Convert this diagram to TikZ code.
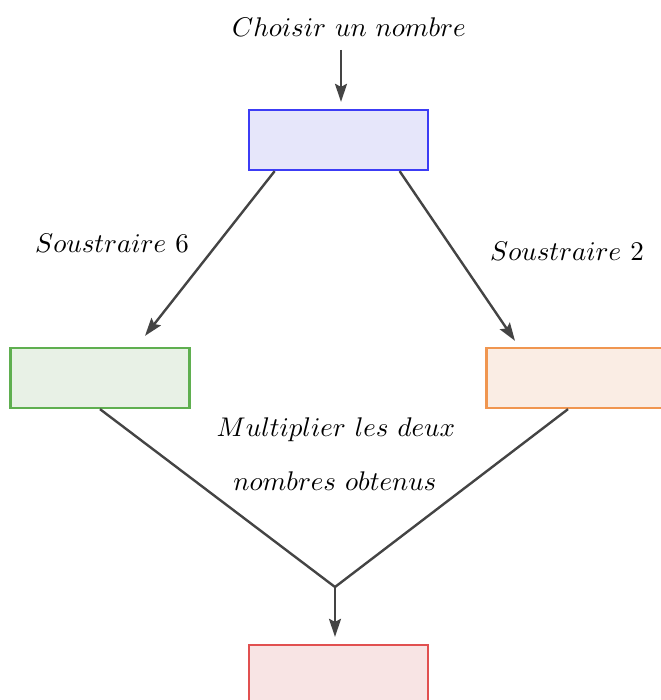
\documentclass[tikz,border=0pt]{standalone}
\usepackage{graphicx}
\usetikzlibrary{arrows.meta,calc}
\definecolor{arrowgray}{RGB}{68,68,68}
\definecolor{bluebd}{RGB}{60,60,245}
\definecolor{bluefl}{RGB}{230,230,250}
\definecolor{greenbd}{RGB}{95,175,80}
\definecolor{greenfl}{RGB}{232,241,230}
\definecolor{orangebd}{RGB}{240,150,80}
\definecolor{orangefl}{RGB}{250,237,228}
\definecolor{redbd}{RGB}{225,80,80}
\definecolor{redfl}{RGB}{248,228,228}
\newcommand{\bigtxt}[1]{\scalebox{2.7}{$#1$}}
\tikzset{
  box/.style={rectangle, minimum width=179pt, minimum height=60pt, line width=2.3pt, inner sep=0pt},
  conn/.style={draw=arrowgray, line width=2.4pt},
  arr/.style={conn, -{Stealth[length=18pt,width=12pt,inset=3pt]}},
  lbl/.style={inner sep=0pt}
}
\begin{document}
\begin{tikzpicture}[x=1pt,y=-1pt]
\useasboundingbox (0,0) rectangle (660,700);
\node[lbl] (t) at (349,27) {\bigtxt{Choisir\ un\ nombre}};
\node[box, draw=bluebd, fill=bluefl] (b) at (338.5,140) {};
\node[box, draw=greenbd, fill=greenfl] (g) at (100,378) {};
\node[box, draw=orangebd, fill=orangefl] (o) at (576,378) {};
\node[box, draw=redbd, fill=redfl] (r) at (338.5,675) {};
\node[lbl] (s6) at (112,243) {\bigtxt{Soustraire\ 6}};
\node[lbl] (s2) at (567,251) {\bigtxt{Soustraire\ 2}};
\node[lbl] (m1) at (336,430) {\bigtxt{Multiplier\ les\ deux}};
\node[lbl] (m2) at (335,481) {\bigtxt{nombres\ obtenus}};
\coordinate (tin) at (341,50);
\coordinate (bin) at ([shift={(2.5,-7)}]b.north);
\coordinate (gin) at ([shift={(45,-11)}]g.north);
\coordinate (oin) at ([shift={(-61,-6)}]o.north);
\coordinate (oout) at ([shift={(-8,0)}]o.south);
\coordinate (j) at (335,587);
\coordinate (rin) at ([shift={(-3.5,-7)}]r.north);
\draw[arr] (tin) -- (bin);
\draw[arr] (b.206) -- (gin);
\draw[arr] (b.-27) -- (oin);
\draw[conn] (g.south) -- (j);
\draw[conn] (oout) -- (j);
\draw[arr] (j) -- (rin);
\end{tikzpicture}
\end{document}
